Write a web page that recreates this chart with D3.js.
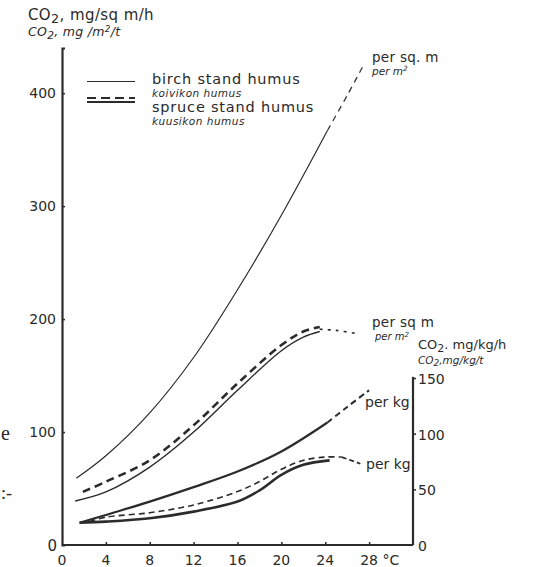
<!DOCTYPE html>
<html>
<head>
<meta charset="utf-8">
<script src="https://cdn.jsdelivr.net/npm/d3@7"></script>
<style>
  html, body { margin: 0; padding: 0; background: #fff; }
  svg { display: block; }
  text { font-family: "DejaVu Sans", "Liberation Sans", sans-serif; fill: #2a2a2a; }
  .it { font-style: italic; }
</style>
</head>
<body>
<svg id="chart" width="539" height="567"></svg>
<script>
// Soil respiration of humus vs. temperature (°C)
// Birch stand humus, per square metre (left axis)
const birchM2T   = [1.3, 4, 8, 12, 16, 20, 24.2];
const birchM2    = [59, 79, 117, 166, 226, 292, 367];
const birchM2ExtT = [24.2, 26, 27.5];
const birchM2Ext  = [367, 398, 425];

// Spruce stand humus, per square metre (left axis): dashed + solid pair
const spruceM2DashT  = [1.9, 4, 8, 12, 16, 20, 22, 23.5];
const spruceM2Dash   = [47, 56, 75, 106, 143, 177, 189, 193];
const spruceM2SolidT = [1.2, 4, 8, 12, 16, 20, 22, 23.5];
const spruceM2Solid  = [39, 47, 69, 100, 137, 172, 184, 189];
const spruceM2ExtT   = [23.5, 25, 27];
const spruceM2Ext    = [191, 190, 187];

// Birch stand humus, per kilogram (right axis)
const birchKgT   = [1.6, 4, 8, 12, 16, 20, 24.2];
const birchKg    = [20, 27, 39, 52, 66, 84, 110];
const birchKgExtT = [24.2, 26, 28];
const birchKgExt  = [110, 124, 139];

// Spruce stand humus, per kilogram (right axis): dashed + solid pair
const spruceKgSolidT = [1.6, 4, 8, 12, 16, 18, 20, 22, 24.4];
const spruceKgSolid  = [20, 21, 24, 30, 39, 49, 63, 72, 76];
const spruceKgDashT  = [2.5, 4, 8, 12, 16, 18, 20, 22, 24, 25.5];
const spruceKgDash   = [21, 25, 29, 36, 48, 57, 68, 76, 79, 79];
const spruceKgExtT   = [25.5, 27.2];
const spruceKgExt    = [79, 73];

// Axis ticks
const xTicks = [0, 4, 8, 12, 16, 20, 24, 28];
const xTickLabels = ["0", "4", "8", "12", "16", "20", "24", "28 °C"];
const yLeftTicks = [100, 200, 300, 400];
const yRightTicks = [0, 50, 100, 150];

const svg = d3.select("#chart");
const ink = "#2b2b2b";

const x  = d3.scaleLinear().domain([0, 32]).range([62, 413]);
const yL = d3.scaleLinear().domain([0, 440]).range([545, 48]);
const yR = d3.scaleLinear().domain([0, 150]).range([545, 378]);

const zip = (ts, vs) => ts.map((t, i) => [t, vs[i]]);
const lineL = d3.line().x(d => x(d[0])).y(d => yL(d[1])).curve(d3.curveCatmullRom.alpha(0.5));
const lineR = d3.line().x(d => x(d[0])).y(d => yR(d[1])).curve(d3.curveCatmullRom.alpha(0.5));

function path(gen, data, width, dash) {
  const p = svg.append("path")
    .attr("d", gen(data))
    .attr("fill", "none")
    .attr("stroke", ink)
    .attr("stroke-width", width)
    .attr("stroke-linecap", "butt");
  if (dash) p.attr("stroke-dasharray", dash);
  return p;
}

// ---- axes ----
// left axis
const axL = svg.append("g").attr("transform", "translate(62,0)")
  .call(d3.axisRight(yL).tickValues(yLeftTicks).tickSize(3).tickFormat(""));
axL.select(".domain").attr("stroke", ink).attr("stroke-width", 2.2);
axL.selectAll(".tick line").attr("stroke", ink).attr("stroke-width", 1.5);
yLeftTicks.forEach(v => {
  svg.append("text").attr("x", 56).attr("y", yL(v) + 5).attr("text-anchor", "end")
    .attr("font-size", 14).text(String(v));
});
svg.append("text").attr("x", 57).attr("y", 551).attr("text-anchor", "end")
  .attr("font-size", 15).text("0");

// bottom axis
const axB = svg.append("g").attr("transform", "translate(0,545)")
  .call(d3.axisTop(x).tickValues(xTicks.slice(1)).tickSize(3).tickFormat(""));
axB.select(".domain").attr("stroke", ink).attr("stroke-width", 2.2)
  .attr("d", `M${x(0)},0H${x(32)}`);
axB.selectAll(".tick line").attr("stroke", ink).attr("stroke-width", 1.5);
xTicks.forEach((t, i) => {
  const last = i === xTicks.length - 1;
  svg.append("text").attr("x", last ? x(t) - 9 : x(t)).attr("y", 565)
    .attr("text-anchor", last ? "start" : "middle").attr("font-size", 14).text(xTickLabels[i]);
});

// right axis
const axR = svg.append("g").attr("transform", `translate(${x(32)},0)`)
  .call(d3.axisRight(yR).tickValues(yRightTicks.slice(1)).tickSize(3).tickFormat(""));
axR.select(".domain").attr("stroke", ink).attr("stroke-width", 2.2)
  .attr("d", `M0,${yR(0)}V${yR(151)}`);
axR.selectAll(".tick line").attr("stroke", ink).attr("stroke-width", 1.5);
yRightTicks.forEach(v => {
  svg.append("text").attr("x", x(32) + 5).attr("y", yR(v) + 6)
    .attr("font-size", 14).text(String(v));
});

// ---- curves ----
// birch per m²
path(lineL, zip(birchM2T, birchM2), 1.2);
path(lineL, zip(birchM2ExtT, birchM2Ext), 1.2, "6,5");

// spruce per m²
path(lineL, zip(spruceM2SolidT, spruceM2Solid), 1.4);
path(lineL, zip(spruceM2DashT, spruceM2Dash), 2.6, "8,5");
path(lineL, zip(spruceM2ExtT, spruceM2Ext), 1.6, "3,5");

// birch per kg
path(lineR, zip(birchKgT, birchKg), 2.2);
path(lineR, zip(birchKgExtT, birchKgExt), 2, "6,4");

// spruce per kg
path(lineR, zip(spruceKgSolidT, spruceKgSolid), 2.6);
path(lineR, zip(spruceKgDashT, spruceKgDash), 1.6, "6,4");
path(lineR, zip(spruceKgExtT, spruceKgExt), 1.8, "5,3");

// ---- texts ----
function label(xp, yp, size, txt, italic, spacing) {
  const t = svg.append("text").attr("x", xp).attr("y", yp).attr("font-size", size);
  if (italic) t.attr("class", "it");
  if (spacing) t.attr("letter-spacing", spacing);
  txt.forEach(part => {
    const s = t.append("tspan").text(part.t);
    if (part.sub) s.attr("dy", size * 0.2).attr("font-size", size * 0.85);
    if (part.after) s.attr("dy", -size * 0.2);
    if (part.sup) s.attr("dy", -size * 0.35).attr("font-size", size * 0.7);
    if (part.afterSup) s.attr("dy", size * 0.35);
  });
  return t;
}

// left axis titles
label(28, 20, 15, [{t: "CO"}, {t: "2", sub: true}, {t: ", mg/sq m/h", after: true}], false, 0.4);
label(28, 36, 12.5, [{t: "CO"}, {t: "2", sub: true}, {t: ", mg /m", after: true}, {t: "2", sup: true}, {t: "/t", afterSup: true}], true, 0.3);

// right axis titles
label(418, 349, 13, [{t: "CO"}, {t: "2", sub: true}, {t: ". mg/kg/h", after: true}]);
label(418, 364, 10.5, [{t: "CO"}, {t: "2", sub: true}, {t: ",mg/kg/t", after: true}], true);

// legend
svg.append("line").attr("x1", 87).attr("x2", 135).attr("y1", 81.5).attr("y2", 81.5)
  .attr("stroke", ink).attr("stroke-width", 1.2);
svg.append("line").attr("x1", 87).attr("x2", 135).attr("y1", 98).attr("y2", 98)
  .attr("stroke", ink).attr("stroke-width", 2.2).attr("stroke-dasharray", "9,5");
svg.append("line").attr("x1", 87).attr("x2", 135).attr("y1", 102).attr("y2", 102)
  .attr("stroke", ink).attr("stroke-width", 2);
label(152, 84, 14.5, [{t: "birch stand humus"}], false, 0.8);
label(152, 96.5, 10.5, [{t: "koivikon humus"}], true, 0.5);
label(152, 112, 14.5, [{t: "spruce stand humus"}], false, 0.8);
label(152, 125, 10.5, [{t: "kuusikon humus"}], true, 0.5);

// curve end labels
label(372, 62, 13.5, [{t: "per sq. m"}], false, 0.3);
label(372, 75, 10.5, [{t: "per m"}, {t: "2", sup: true}], true);
label(372, 327, 13.5, [{t: "per sq m"}], false, 0.3);
label(375, 340, 10, [{t: "per m"}, {t: "2", sup: true}], true);
label(365, 407, 14, [{t: "per  kg"}]);
label(366, 469, 14, [{t: "per kg"}]);

// stray letters at the page margin
svg.append("text").attr("x", 1).attr("y", 440).attr("font-size", 20)
  .style("font-family", "Liberation Serif, serif").text("e");
svg.append("text").attr("x", 1).attr("y", 499).attr("font-size", 18)
  .style("font-family", "Liberation Serif, serif").text(":-");
</script>
</body>
</html>
